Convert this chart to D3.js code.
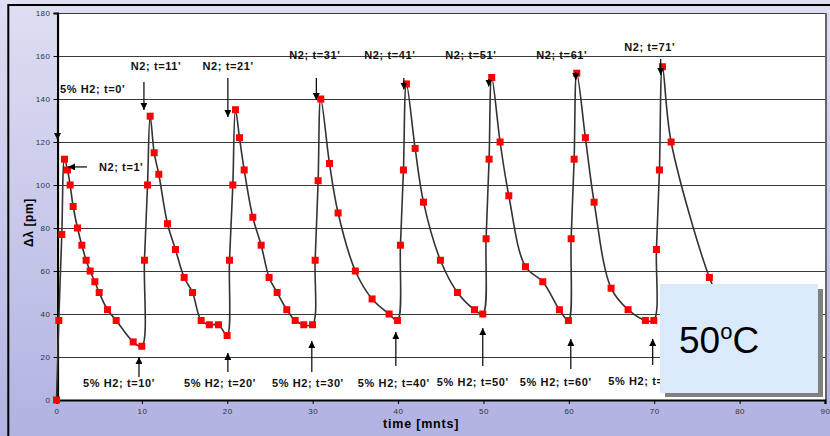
<!DOCTYPE html>
<html>
<head>
<meta charset="utf-8">
<script src="https://cdn.jsdelivr.net/npm/d3@7"></script>
<style>
  html, body { margin: 0; padding: 0; }
  body { width: 830px; height: 436px; overflow: hidden; }
  svg { display: block; font-family: "Liberation Sans", Arial, sans-serif; }
</style>
</head>
<body>
<div id="chart"></div>
<script>
// time [min] of each reading
const timeMin = [
  0, 0.27, 0.62, 0.94, 1.29, 1.6, 1.95, 2.46, 2.97, 3.47, 3.94, 4.49, 5.0, 5.97, 6.99, 8.98, 9.99,
  10.3, 10.66, 10.97, 11.44, 11.98, 13.0, 13.93, 14.95, 15.93, 16.94, 17.9, 18.97, 19.98,
  20.26, 20.65, 20.96, 21.43, 21.98, 22.99, 23.97, 24.9, 25.84, 26.97, 27.95, 28.96, 29.98,
  30.29, 30.64, 30.95, 31.97, 32.98, 35.0, 36.96, 38.95, 39.93,
  40.28, 40.63, 40.98, 42.0, 42.98, 44.96, 46.96, 48.95, 49.92,
  50.31, 50.66, 50.97, 51.95, 52.97, 54.92, 56.95, 58.9, 59.95,
  60.27, 60.62, 60.93, 61.94, 62.96, 64.95, 66.94, 68.97, 69.95,
  70.26, 70.61, 70.96, 71.98, 76.46, 78
];
// wavelength shift [pm]
const shiftPm = [
  0, 37, 77, 112, 107, 100, 90, 80, 72, 65, 60, 55, 50, 42, 37, 27, 25,
  65, 100, 132, 115, 105, 82, 70, 57, 50, 37, 35, 35, 30,
  65, 100, 135, 122, 107, 85, 72, 57, 50, 42, 37, 35, 35,
  65, 102, 140, 110, 87, 60, 47, 40, 37,
  72, 107, 147, 117, 92, 65, 50, 42, 40,
  75, 112, 150, 120, 95, 62, 55, 42, 37,
  75, 112, 152, 122, 92, 52, 42, 37, 37,
  70, 107, 155, 120, 57, 44
];

const xTicks = [0, 10, 20, 30, 40, 50, 60, 70, 80, 90];
const yTicks = [0, 20, 40, 60, 80, 100, 120, 140, 160, 180];

// gas switch labels
const n2Labels = ["N2; t=11'", "N2; t=21'", "N2; t=31'", "N2; t=41'", "N2; t=51'", "N2; t=61'", "N2; t=71'"];
const n2LabelAt = [[11.65, 155.3], [20.1, 155.3], [30.26, 160.5], [39.04, 160.5], [48.52, 160.5], [59.17, 160.5], [69.47, 164.2]];
const n2Arrows = [[10.24, 147.9, 134.9], [20.07, 149.8, 131.6], [30.43, 149.8, 139.5], [40.68, 149.8, 144.4],
  [50.62, 149.3, 145.8], [60.81, 152.6, 148.8], [70.76, 158.6, 151.2]];

const h2Labels = ["5% H2; t=10'", "5% H2; t=20'", "5% H2; t=30'", "5% H2; t=40'", "5% H2; t=50'", "5% H2; t=60'", "5% H2; t=70'"];
const h2LabelAt = [[7.32, 7.9], [19.14, 7.9], [29.44, 7.9], [39.5, 7.9], [48.75, 8.4], [58.47, 8.4], [68.83, 8.8]];
const h2Arrows = [[9.66, 10.7, 20], [20.07, 13, 21.9], [29.9, 13, 27.4], [39.74, 15.8, 31.6],
  [49.92, 15.8, 33.5], [60.23, 14.4, 28.4], [69.82, 16.3, 28.4]];

const width = 830, height = 436;

const svg = d3.select('#chart')
  .append('svg')
  .attr('width', width)
  .attr('height', height);

const defs = svg.append('defs');
const grad = defs.append('linearGradient')
  .attr('id', 'bg')
  .attr('x1', 0).attr('y1', 0).attr('x2', 0).attr('y2', 1);
grad.append('stop').attr('offset', 0).attr('stop-color', '#dedff3');
grad.append('stop').attr('offset', 1).attr('stop-color', '#b2b2e3');

defs.append('marker')
  .attr('id', 'head')
  .attr('viewBox', '0 0 10 10')
  .attr('refX', 10).attr('refY', 5)
  .attr('markerWidth', 7).attr('markerHeight', 7)
  .attr('markerUnits', 'userSpaceOnUse')
  .attr('orient', 'auto')
  .append('path')
  .attr('d', 'M0,0L10,5L0,10Z')
  .attr('fill', '#000');

svg.append('rect').attr('width', width).attr('height', height).attr('fill', 'url(#bg)');
// outer frame
svg.append('rect')
  .attr('x', 8.3).attr('y', 5)
  .attr('width', 840).attr('height', 450)
  .attr('fill', 'none').attr('stroke', '#000').attr('stroke-width', 2);

const x = d3.scaleLinear().domain([0, 90]).range([56.5, 825]);
const y = d3.scaleLinear().domain([0, 180]).range([400, 13]);

// plot area
svg.append('rect')
  .attr('x', x(0)).attr('y', y(180))
  .attr('width', x(90) - x(0)).attr('height', y(0) - y(180))
  .attr('fill', '#fff');
svg.append('line')
  .attr('x1', x(90) + 1).attr('x2', x(90) + 1)
  .attr('y1', y(180)).attr('y2', y(0))
  .attr('stroke', '#666').attr('stroke-width', 2);

// grid
svg.append('g')
  .selectAll('line')
  .data(yTicks.slice(1))
  .join('line')
  .attr('x1', x(0)).attr('x2', x(90))
  .attr('y1', d => Math.round(y(d)) + 0.5).attr('y2', d => Math.round(y(d)) + 0.5)
  .attr('stroke', '#3a3a3a').attr('stroke-width', 1);

// axes
const yAxis = svg.append('g')
  .attr('transform', `translate(${x(0) + 1},0)`)
  .call(d3.axisLeft(y).tickValues(yTicks).tickSize(4).tickPadding(3));
const xAxis = svg.append('g')
  .attr('transform', `translate(0,${y(0)})`)
  .call(d3.axisBottom(x).tickValues(xTicks).tickSize(4).tickPadding(4));
[yAxis, xAxis].forEach(g => {
  g.select('.domain').attr('stroke', '#000').attr('stroke-width', 2.2);
  g.selectAll('.tick line').attr('stroke', '#000');
  g.selectAll('.tick text')
    .attr('fill', '#333')
    .style('font-size', '8px')
    .style('letter-spacing', '0.5px');
});

// series
const pts = timeMin.map((t, i) => ({ t: t, v: shiftPm[i] }));
const line = d3.line()
  .x(d => x(d.t))
  .y(d => y(d.v))
  .curve(d3.curveCatmullRom.alpha(0.5));

svg.append('path')
  .datum(pts)
  .attr('d', line)
  .attr('fill', 'none')
  .attr('stroke', '#333')
  .attr('stroke-width', 1.6);

svg.append('g')
  .selectAll('rect')
  .data(pts)
  .join('rect')
  .attr('x', d => x(d.t) - 3.5)
  .attr('y', d => y(d.v) - 3.5)
  .attr('width', 7).attr('height', 7)
  .attr('fill', '#ff0000');

// annotations
const ann = svg.append('g')
  .style('font-size', '11px')
  .style('font-weight', 'bold')
  .style('letter-spacing', '0.6px')
  .attr('fill', '#111');

function vArrow(a) {
  ann.append('line')
    .attr('x1', x(a[0])).attr('x2', x(a[0]))
    .attr('y1', y(a[1])).attr('y2', y(a[2]))
    .attr('stroke', '#000').attr('stroke-width', 1.2)
    .attr('marker-end', 'url(#head)');
}

n2Labels.forEach((s, i) => {
  ann.append('text')
    .attr('x', x(n2LabelAt[i][0])).attr('y', y(n2LabelAt[i][1]))
    .attr('text-anchor', 'middle').attr('dy', '0.35em')
    .text(s);
  vArrow(n2Arrows[i]);
});
h2Labels.forEach((s, i) => {
  ann.append('text')
    .attr('x', x(h2LabelAt[i][0])).attr('y', y(h2LabelAt[i][1]))
    .attr('text-anchor', 'middle').attr('dy', '0.35em')
    .text(s);
  vArrow(h2Arrows[i]);
});

// start of run
ann.append('text')
  .attr('x', x(0.41)).attr('y', y(144.7)).attr('dy', '0.35em')
  .text("5% H2; t=0'");
vArrow([0.12, 138.1, 120.9]);
ann.append('text')
  .attr('x', x(4.97)).attr('y', y(108.4)).attr('dy', '0.35em')
  .text("N2; t=1'");
ann.append('line')
  .attr('x1', x(3.57)).attr('x2', x(1.35))
  .attr('y1', y(108.4)).attr('y2', y(108.4))
  .attr('stroke', '#000').attr('stroke-width', 1.2)
  .attr('marker-end', 'url(#head)');

// axis titles
svg.append('text')
  .attr('transform', `translate(33,${y(90) + 16}) rotate(-90)`)
  .attr('text-anchor', 'middle')
  .style('font-size', '12px').style('font-weight', 'bold')
  .style('letter-spacing', '0.6px')
  .text('Δλ [pm]');
svg.append('text')
  .attr('x', x(42.7)).attr('y', 428)
  .attr('text-anchor', 'middle')
  .style('font-size', '12.5px').style('font-weight', 'bold')
  .style('letter-spacing', '0.8px')
  .text('time [mnts]');

// temperature box
const box = svg.append('g');
box.append('rect')
  .attr('x', 665).attr('y', 289).attr('width', 158).attr('height', 108)
  .attr('fill', '#808080');
box.append('rect')
  .attr('x', 660).attr('y', 284).attr('width', 158).attr('height', 109)
  .attr('fill', '#dbeafb');
const temp = box.append('text')
  .attr('x', 679).attr('y', 353)
  .style('font-size', '37px')
  .attr('fill', '#000');
temp.append('tspan').text('50');
temp.append('tspan').attr('dy', -14).style('font-size', '22px').text('o');
temp.append('tspan').attr('dy', 14).text('C');
</script>
</body>
</html>
